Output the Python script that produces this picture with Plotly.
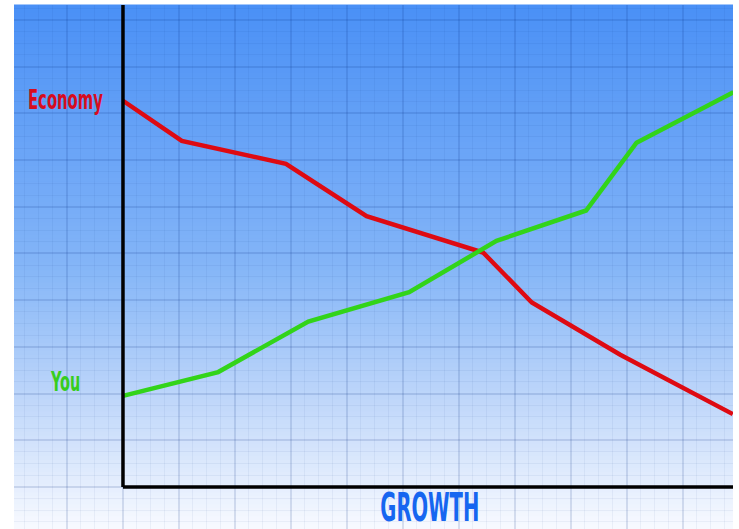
import plotly.graph_objects as go

# Data
x_economy = [0, 1.05, 2.91, 4.35, 6.43, 7.30, 8.88, 10.89]
y_economy = [8.27, 7.41, 6.92, 5.80, 5.02, 3.95, 2.83, 1.56]
x_you = [0, 1.70, 3.31, 5.11, 6.67, 8.27, 9.17, 10.90]
y_you = [1.95, 2.46, 3.54, 4.17, 5.27, 5.92, 7.37, 8.45]
labels = {"economy": "Economy", "you": "You", "x": "GROWTH"}

X_RANGE = [-1.946, 10.893]
Y_RANGE = [-0.90, 10.32]

fig = go.Figure()

fig.add_trace(go.Scatter(x=x_economy, y=y_economy, mode="lines",
                         line=dict(color="rgb(222,10,18)", width=4.5),
                         hoverinfo="skip", showlegend=False))
fig.add_trace(go.Scatter(x=x_you, y=y_you, mode="lines",
                         line=dict(color="rgb(50,212,25)", width=4.5),
                         hoverinfo="skip", showlegend=False))

# Vertical gradient background
stops = [(0.0, (74, 144, 246)), (0.5, (132, 181, 247)),
         (0.75, (190, 214, 250)), (1.0, (248, 250, 255))]

def col_at(t):
    for (t0, c0), (t1, c1) in zip(stops[:-1], stops[1:]):
        if t0 <= t <= t1:
            f = (t - t0) / (t1 - t0)
            return tuple(int(round(a + (b - a) * f)) for a, b in zip(c0, c1))
    return stops[-1][1]

shapes = []
N = 130
for i in range(N):
    t = (i + 0.5) / N  # t from top (0) to bottom (1)
    c = col_at(t)
    shapes.append(dict(type="rect", xref="paper", yref="paper",
                       x0=0, x1=1, y0=1 - (i + 1) / N - 0.001, y1=1 - i / N + 0.001,
                       fillcolor="rgb(%d,%d,%d)" % c, line=dict(width=0),
                       layer="below"))

# Axis lines
shapes.append(dict(type="line", xref="x", yref="y", x0=0, x1=0, y0=0, y1=Y_RANGE[1],
                   line=dict(color="black", width=3.5), layer="above"))
shapes.append(dict(type="line", xref="x", yref="y", x0=0, x1=X_RANGE[1], y0=0, y1=0,
                   line=dict(color="black", width=3.5), layer="above"))

label_font = "DejaVu Sans Condensed, Liberation Sans Narrow, DejaVu Sans, sans-serif"
annotations = [
    dict(x=-0.33, y=8.3, xref="x", yref="y", text="<b>%s</b>" % labels["economy"],
         showarrow=False, xanchor="right", yanchor="middle",
         font=dict(family=label_font, size=27, color="rgb(215,12,30)")),
    dict(x=-0.73, y=2.25, xref="x", yref="y", text="<b>%s</b>" % labels["you"],
         showarrow=False, xanchor="right", yanchor="middle",
         font=dict(family=label_font, size=26, color="rgb(55,205,30)")),
    dict(x=5.48, y=-0.45, xref="x", yref="y", text="<b>%s</b>" % labels["x"],
         showarrow=False, xanchor="center", yanchor="middle",
         font=dict(family=label_font, size=39, color="rgb(22,102,240)")),
]

grid_major = "rgba(0,40,120,0.13)"
grid_minor = "rgba(0,40,120,0.05)"

fig.update_layout(
    width=739, height=529,
    margin=dict(l=14, r=6, t=5, b=0),
    paper_bgcolor="white",
    plot_bgcolor="white",
    shapes=shapes,
    annotations=annotations,
    xaxis=dict(range=X_RANGE, tick0=0, dtick=1, showgrid=True, gridcolor=grid_major,
               gridwidth=1.5, zeroline=False, showticklabels=False, ticks="",
               showline=False, fixedrange=True,
               minor=dict(tick0=0, dtick=0.25, showgrid=True, gridcolor=grid_minor, gridwidth=1)),
    yaxis=dict(range=Y_RANGE, tick0=0, dtick=1, showgrid=True, gridcolor=grid_major,
               gridwidth=1.5, zeroline=False, showticklabels=False, ticks="",
               showline=False, fixedrange=True,
               minor=dict(tick0=0, dtick=0.25, showgrid=True, gridcolor=grid_minor, gridwidth=1)),
)

# Condensed look for the label texts: squeeze horizontally about their anchor
post = """
document.body.style.margin = '0';
var gd = document.getElementById('{plot_id}');
function squish() {
  var spec = {'Economy': [75, 'right'], 'You': [30, 'right'], 'GROWTH': [99, 'center']};
  gd.querySelectorAll('text.annotation-text').forEach(function (t) {
    var s = spec[t.textContent];
    if (!s) return;
    t.removeAttribute('transform');
    var b = t.getBBox();
    if (!b.width) return;
    var k = s[0] / b.width;
    var ax = s[1] === 'right' ? b.x + b.width : b.x + b.width / 2;
    t.setAttribute('transform', 'translate(' + ax + ',0) scale(' + k + ',1) translate(' + (-ax) + ',0)');
  });
}
squish();
setTimeout(squish, 50);
"""

fig.write_html("out.html", config={"displayModeBar": False}, post_script=post)
